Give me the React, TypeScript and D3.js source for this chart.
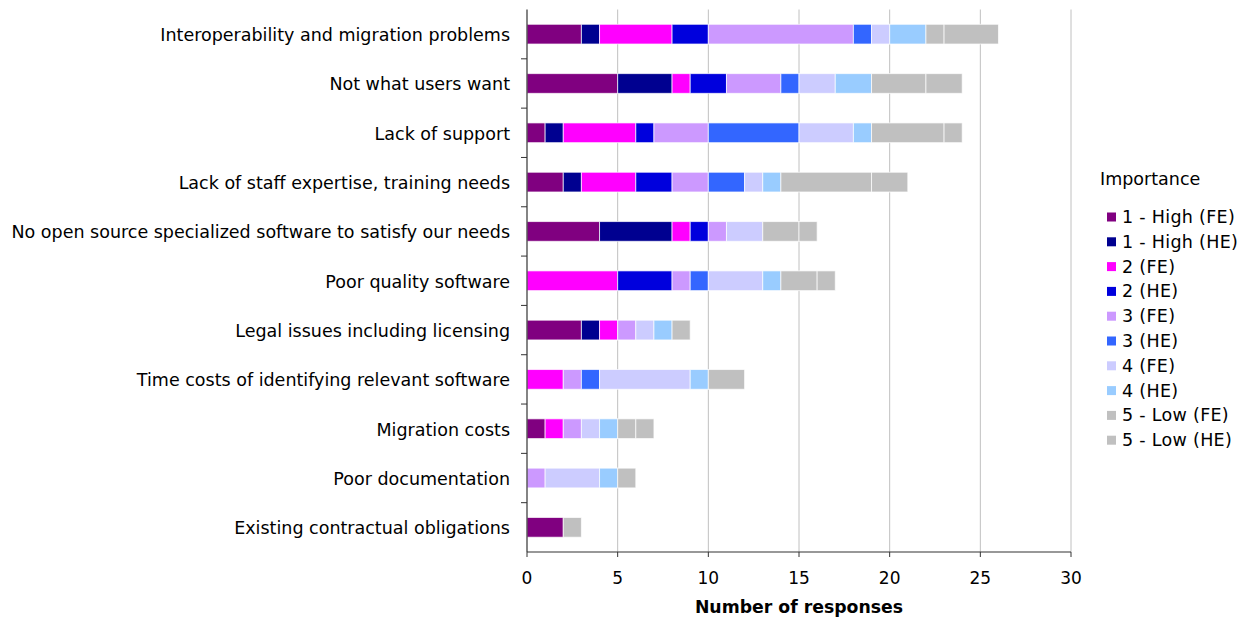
import React from "react";
import * as d3 from "d3";

const categories = [
  "Interoperability and migration problems",
  "Not what users want",
  "Lack of support",
  "Lack of staff expertise, training needs",
  "No open source specialized software to satisfy our needs",
  "Poor quality software",
  "Legal issues including licensing",
  "Time costs of identifying relevant software",
  "Migration costs",
  "Poor documentation",
  "Existing contractual obligations",
];

const seriesNames = [
  "1 - High (FE)",
  "1 - High (HE)",
  "2 (FE)",
  "2 (HE)",
  "3 (FE)",
  "3 (HE)",
  "4 (FE)",
  "4 (HE)",
  "5 - Low (FE)",
  "5 - Low (HE)",
];

const seriesColors = [
  "#800080",
  "#000090",
  "#FF00FF",
  "#0000DD",
  "#CC99FF",
  "#3366FF",
  "#CCCCFF",
  "#99CCFF",
  "#C0C0C0",
  "#C0C0C0",
];

// values per category, in series order
const high1FE = [3, 5, 1, 2, 4, 0, 3, 0, 1, 0, 2];
const high1HE = [1, 3, 1, 1, 4, 0, 1, 0, 0, 0, 0];
const two2FE = [4, 1, 4, 3, 1, 5, 1, 2, 1, 0, 0];
const two2HE = [2, 2, 1, 2, 1, 3, 0, 0, 0, 0, 0];
const three3FE = [8, 3, 3, 2, 1, 1, 1, 1, 1, 1, 0];
const three3HE = [1, 1, 5, 2, 0, 1, 0, 1, 0, 0, 0];
const four4FE = [1, 2, 3, 1, 2, 3, 1, 5, 1, 3, 0];
const four4HE = [2, 2, 1, 1, 0, 1, 1, 1, 1, 1, 0];
const low5FE = [1, 3, 4, 5, 2, 2, 1, 2, 1, 1, 1];
const low5HE = [3, 2, 1, 2, 1, 1, 0, 0, 1, 0, 0];

const seriesValues = [
  high1FE, high1HE, two2FE, two2HE, three3FE,
  three3HE, four4FE, four4HE, low5FE, low5HE,
];

const xTicks = [0, 5, 10, 15, 20, 25, 30];

const FONT = "'DejaVu Sans', Verdana, sans-serif";

export default function App() {
  const width = 1248;
  const height = 622;
  const left = 527;
  const right = 1071;
  const top = 9.5;
  const bottom = 552;

  const x = d3.scaleLinear().domain([0, 30]).range([left, right]);
  const y = d3
    .scaleBand<string>()
    .domain(categories)
    .range([top, bottom])
    .paddingInner(0.6)
    .paddingOuter(0.3);
  const yOuter = d3.scaleBand<string>().domain(categories).range([top, bottom]);

  const rows = categories.map((c, i) => {
    const o: any = { category: c };
    seriesNames.forEach((s, j) => (o[s] = seriesValues[j][i]));
    return o;
  });
  const stacked = d3.stack<any>().keys(seriesNames)(rows);

  return (
    <svg
      width={width}
      height={height}
      style={{ display: "block", position: "absolute", left: 0, top: 0 }}
      fontFamily={FONT}
    >
      <rect x={0} y={0} width={width} height={height} fill="#fff" />
      {/* gridlines */}
      {xTicks.slice(1).map((t) => (
        <line
          key={"g" + t}
          x1={x(t)}
          x2={x(t)}
          y1={top}
          y2={bottom}
          stroke="#c0c0c0"
          strokeWidth={1}
        />
      ))}
      {/* bars */}
      {stacked.map((layer, j) => (
        <g key={seriesNames[j]} fill={seriesColors[j]}>
          {layer.map((d, i) =>
            d[1] - d[0] > 0 ? (
              <rect
                key={i}
                x={x(d[0])}
                y={y(categories[i])}
                width={x(d[1]) - x(d[0])}
                height={y.bandwidth()}
                stroke="#ffffff"
                strokeOpacity={0.7}
                strokeWidth={1}
              />
            ) : null
          )}
        </g>
      ))}
      {/* y axis */}
      <line x1={left} x2={left} y1={top} y2={bottom} stroke="#333" strokeWidth={1.2} />
      {categories.map((c, i) => (
        <g key={"yt" + i}>
          {i > 0 && (
            <line
              x1={left - 6}
              x2={left}
              y1={yOuter(c)}
              y2={yOuter(c)}
              stroke="#333"
            />
          )}
          <text
            x={left - 17}
            y={(y(c) as number) + y.bandwidth() / 2 + 1}
            textAnchor="end"
            dominantBaseline="central"
            fontSize={17.5}
            fill="#000"
          >
            {c}
          </text>
        </g>
      ))}
      {/* x axis */}
      <line x1={left} x2={right} y1={bottom} y2={bottom} stroke="#333" strokeWidth={1.2} />
      {xTicks.map((t) => (
        <g key={"xt" + t}>
          <line x1={x(t)} x2={x(t)} y1={bottom} y2={bottom + 5} stroke="#333" />
          <text
            x={x(t)}
            y={578}
            textAnchor="middle"
            dominantBaseline="central"
            fontSize={17}
            fill="#000"
          >
            {t}
          </text>
        </g>
      ))}
      <text
        x={(left + right) / 2}
        y={607}
        textAnchor="middle"
        dominantBaseline="central"
        fontSize={17.3}
        fontWeight="bold"
        fill="#000"
      >
        Number of responses
      </text>
      {/* legend */}
      <text x={1100} y={179} dominantBaseline="central" fontSize={17.5} fill="#000">
        Importance
      </text>
      {seriesNames.map((s, j) => {
        const cy = 217 + j * 24.8;
        return (
          <g key={"lg" + j}>
            <rect x={1107} y={cy - 4.5} width={9} height={9} fill={seriesColors[j]} />
            <text
              x={1122}
              y={cy}
              dominantBaseline="central"
              fontSize={17.5}
              letterSpacing={0.3}
              fill="#000"
            >
              {s}
            </text>
          </g>
        );
      })}
    </svg>
  );
}
